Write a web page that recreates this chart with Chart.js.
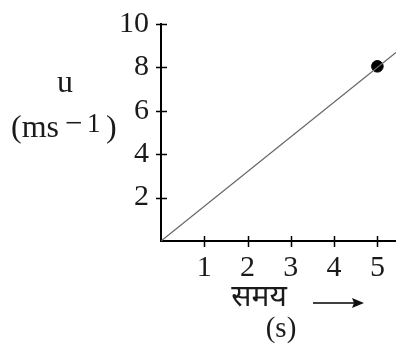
<!DOCTYPE html>
<html>
<head>
<meta charset="utf-8">
<script src="https://cdn.jsdelivr.net/npm/chart.js@4"></script>
<style>
  html, body { margin: 0; padding: 0; background: #fff; }
  #wrap { width: 396px; height: 354px; }
</style>
</head>
<body>
<div id="wrap"><canvas id="myChart" width="396" height="354"></canvas></div>
<script>
const lineX = [0, 5.43]
const lineY = [0, 8.69]
const pointX = [5]
const pointY = [8.05]
const xTicks = [1, 2, 3, 4, 5]
const yTicks = [2, 4, 6, 8, 10]

const serif = "'Liberation Serif', 'DejaVu Serif', serif"

// ticks that cross the axis line, like the textbook figure
const crossTicks = {
  id: 'crossTicks',
  afterDraw(chart) {
    let ctx = chart.ctx
    let xs = chart.scales.x
    let ys = chart.scales.y
    let a = chart.chartArea
    ctx.save()
    ctx.strokeStyle = '#000'
    ctx.lineWidth = 1.5
    ctx.beginPath()
    xTicks.forEach(v => {
      let px = Math.round(xs.getPixelForValue(v)) + 0.5
      ctx.moveTo(px, a.bottom - 5)
      ctx.lineTo(px, a.bottom + 6)
    })
    yTicks.forEach(v => {
      let py = Math.round(ys.getPixelForValue(v)) + 0.5
      ctx.moveTo(a.left - 5, py)
      ctx.lineTo(a.left + 6, py)
    })
    ctx.stroke()

    // axis titles
    ctx.fillStyle = '#1a1a1a'
    ctx.textBaseline = 'alphabetic'
    ctx.font = '32px ' + serif
    ctx.textAlign = 'center'
    ctx.fillText('u', 65, 92)

    ctx.textAlign = 'left'
    ctx.fillText('(ms', 11, 137)
    ctx.font = '31px ' + serif
    ctx.fillText('\u2212', 65, 133)
    ctx.font = '27px ' + serif
    ctx.fillText('1', 87, 132)
    ctx.font = '32px ' + serif
    ctx.fillText(')', 106, 137)

    ctx.textAlign = 'center'
    ctx.font = "30px 'Noto Sans Devanagari', 'Lohit Devanagari', 'Noto Serif Devanagari', serif"
    ctx.fillText('समय', 259, 306)
    ctx.font = '29px ' + serif
    ctx.fillText('(s)', 281, 337)

    // arrow
    ctx.lineWidth = 1.5
    ctx.beginPath()
    ctx.moveTo(313, 303)
    ctx.lineTo(358, 303)
    ctx.stroke()
    ctx.beginPath()
    ctx.moveTo(364, 303)
    ctx.lineTo(352, 298)
    ctx.lineTo(354, 303)
    ctx.lineTo(352, 308)
    ctx.closePath()
    ctx.fillStyle = '#111'
    ctx.fill()
    ctx.restore()
  }
}

let data = {
  datasets: [{
    label: 'u',
    data: lineX.map((x, i) => ({ x: x, y: lineY[i] })),
    borderColor: '#666',
    borderWidth: 1.3,
    pointRadius: 0,
    showLine: true,
    fill: false
  }, {
    label: 'point',
    data: pointX.map((x, i) => ({ x: x, y: pointY[i] })),
    backgroundColor: '#000',
    borderColor: '#000',
    pointRadius: 5.8,
    showLine: false
  }]
}

let config = {
  type: 'scatter',
  data: data,
  plugins: [crossTicks],
  options: {
    responsive: false,
    animation: false,
    layout: { autoPadding: false, padding: { top: 24, right: 0, left: 0, bottom: 0 } },
    plugins: {
      legend: { display: false },
      tooltip: { enabled: false }
    },
    scales: {
      x: {
        type: 'linear',
        min: 0,
        max: 5.43,
        afterFit: s => {
          s.height = 113
          s.paddingLeft = 0
          s.paddingRight = 0
        },
        border: { color: '#000', width: 2 },
        grid: { drawOnChartArea: false, drawTicks: false },
        ticks: {
          stepSize: 1,
          includeBounds: false,
          padding: 9,
          color: '#1a1a1a',
          font: { family: serif, size: 30 },
          maxRotation: 0,
          callback: v => xTicks.includes(v) ? String(v) : ''
        }
      },
      y: {
        type: 'linear',
        min: 0,
        max: 10,
        afterFit: s => {
          s.width = 161
          s.paddingTop = 0
          s.paddingBottom = 0
        },
        border: { color: '#000', width: 2 },
        grid: { drawOnChartArea: false, drawTicks: false },
        ticks: {
          stepSize: 2,
          padding: 12,
          color: '#1a1a1a',
          font: { family: serif, size: 30 },
          callback: v => yTicks.includes(v) ? String(v) : ''
        }
      }
    }
  }
}

let myChart = new Chart(document.getElementById('myChart'), config)
</script>
</body>
</html>
